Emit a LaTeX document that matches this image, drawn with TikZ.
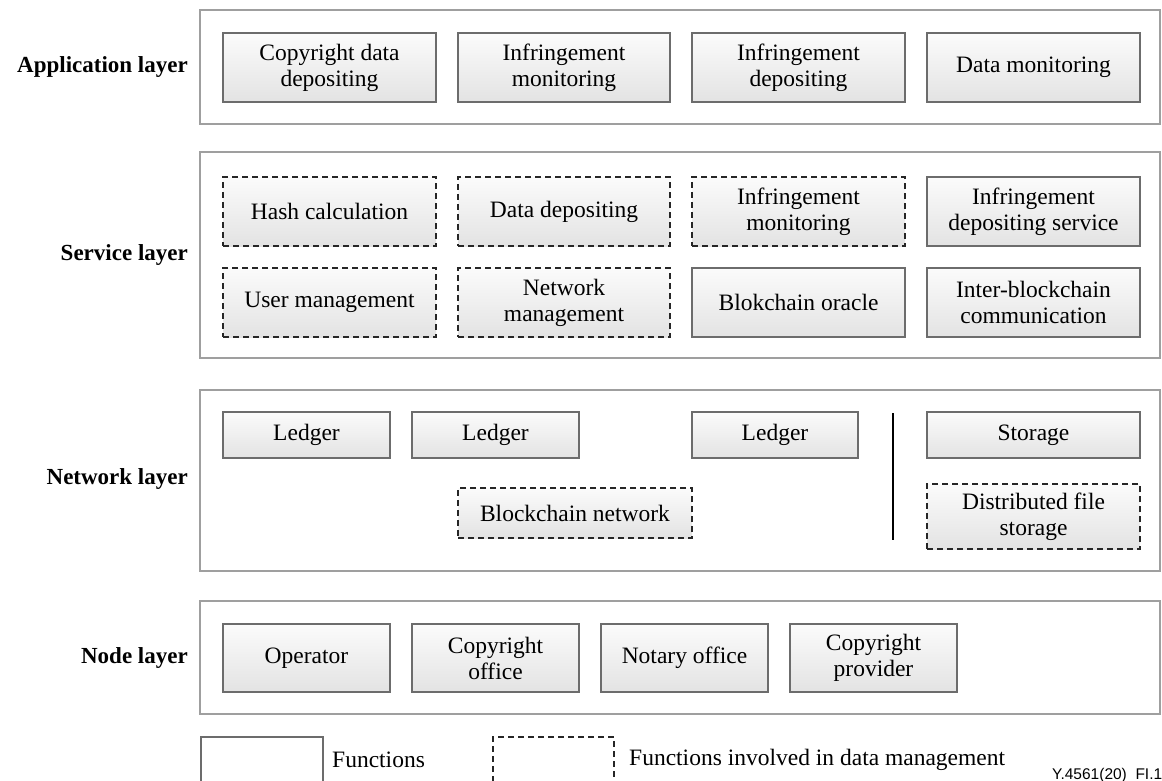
\documentclass[tikz,border=0pt]{standalone}
\usepackage{fontspec}
\setmainfont{Liberation Serif}
\newfontfamily\tagfont{Liberation Sans}
\usetikzlibrary{shadings}

\tikzset{
  layerbox/.style={draw=gray!75, line width=1.8pt, fill=white},
  fnbox/.style={draw=gray!85!black, line width=1.3pt, top color=white!97!gray,
    bottom color=gray!22, align=center, inner sep=0pt,
    font=\fontsize{23.5}{26}\selectfont},
  dmbox/.style={fnbox, draw=black!85, dash pattern=on 6pt off 4pt},
  layername/.style={anchor=east, inner sep=0pt, font=\fontsize{23}{26}\selectfont\bfseries},
  legendtext/.style={anchor=base west, inner sep=0pt, font=\fontsize{23.5}{26}\selectfont},
}

% \fbx{name}{style}{x1}{y1}{x2}{y2}{text}
\newcommand\fbx[7]{%
  \node[#2, minimum width={#5pt-#3pt}, minimum height={#6pt-#4pt}]
    (#1) at ({(#3+#5)/2},{(#4+#6)/2}) {#7};}

\begin{document}
\begin{tikzpicture}[x=1pt,y=-1pt]
\useasboundingbox (0,0) rectangle (1162,780);

% layer frames
\draw[layerbox] (200,10) rectangle (1160,124);
\draw[layerbox] (200,152) rectangle (1160,358);
\draw[layerbox] (200,390) rectangle (1160,571);
\draw[layerbox] (200,601) rectangle (1160,714);

% layer names
\node[layername] (lapp) at (188,67) {Application layer};
\node[layername] (lsrv) at (188,255) {Service layer};
\node[layername] (lnet) at (188,479) {Network layer};
\node[layername] (lnod) at (188,658) {Node layer};

% application layer
\fbx{a1}{fnbox}{223}{33}{436}{102}{Copyright data\\depositing}
\fbx{a2}{fnbox}{458}{33}{670}{102}{Infringement\\monitoring}
\fbx{a3}{fnbox}{692}{33}{905}{102}{Infringement\\depositing}
\fbx{a4}{fnbox}{927}{33}{1140}{102}{Data monitoring}

% service layer
\fbx{s1}{dmbox}{223}{177}{436}{246}{Hash calculation}
\fbx{s2}{dmbox}{458}{177}{670}{246}{Data depositing}
\fbx{s3}{dmbox}{692}{177}{905}{246}{Infringement\\monitoring}
\fbx{s4}{fnbox}{927}{177}{1140}{246}{Infringement\\depositing service}
\fbx{s5}{dmbox}{223}{268}{436}{337}{User management}
\fbx{s6}{dmbox}{458}{268}{670}{337}{Network\\management}
\fbx{s7}{fnbox}{692}{268}{905}{337}{Blokchain oracle}
\fbx{s8}{fnbox}{927}{268}{1140}{337}{Inter-blockchain\\communication}

% network layer
\fbx{n1}{fnbox}{223}{412}{390}{458}{Ledger}
\fbx{n2}{fnbox}{412}{412}{579}{458}{Ledger}
\fbx{n3}{fnbox}{692}{412}{858}{458}{Ledger}
\fbx{n4}{fnbox}{927}{412}{1140}{458}{Storage}
\fbx{n5}{dmbox}{458}{488}{692}{538}{Blockchain network}
\fbx{n6}{dmbox}{927}{484}{1140}{549}{Distributed file\\storage}
\coordinate (sepT) at (893,413);
\coordinate (sepB) at (893,540);
\draw[line width=1.6pt] (sepT) -- (sepB);

% node layer
\fbx{o1}{fnbox}{223}{624}{390}{692}{Operator}
\fbx{o2}{fnbox}{412}{624}{579}{692}{Copyright\\office}
\fbx{o3}{fnbox}{601}{624}{768}{692}{Notary office}
\fbx{o4}{fnbox}{790}{624}{957}{692}{Copyright\\provider}

% legend (boxes run off the bottom edge)
\draw[draw=gray!85!black, line width=1.3pt] (201,782) -- (201,737) -- (323,737) -- (323,782);
\draw[draw=black!85, line width=1.3pt, dash pattern=on 6pt off 4pt] (493,782) -- (493,737) -- (614,737) -- (614,782);
\node[legendtext] (lg1) at (332,767) {Functions};
\node[legendtext] (lg2) at (629,765) {Functions involved in data management};

\node[anchor=base west, inner sep=0pt, font=\fontsize{15.5}{18}\selectfont\tagfont] (tag) at (1052,779) {Y.4561(20)\_FI.1};
\end{tikzpicture}
\end{document}
